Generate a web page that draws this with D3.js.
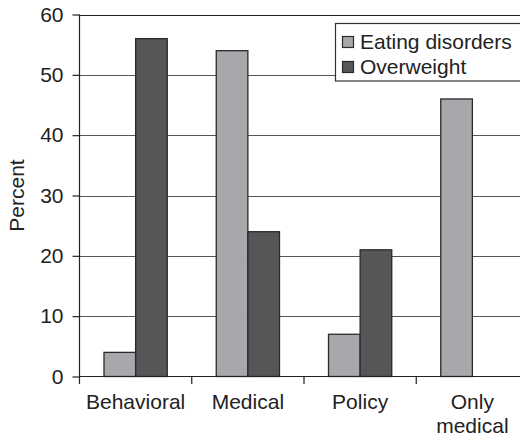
<!DOCTYPE html>
<html>
<head>
<meta charset="utf-8">
<script src="https://cdn.jsdelivr.net/npm/d3@7"></script>
<style>
  html, body { margin: 0; padding: 0; background: #fff; }
  svg { display: block; font-family: "Liberation Sans", Arial, sans-serif; }
</style>
</head>
<body>
<svg id="chart" width="520" height="440"></svg>
<script>
const categories = ["Behavioral", "Medical", "Policy", "Only medical"];
const categoryLines = [["Behavioral"], ["Medical"], ["Policy"], ["Only", "medical"]];
const seriesNames = ["Eating disorders", "Overweight"];
const eatingDisorders = [4, 54, 7, 46];
const overweight = [56, 24, 21, 0];
const yTicks = [0, 10, 20, 30, 40, 50, 60];

const colors = { "Eating disorders": "#a7a8ab", "Overweight": "#555657" };
const seriesValues = { "Eating disorders": eatingDisorders, "Overweight": overweight };
const FS = 21;

const svg = d3.select("#chart");
const mLeft = 79.5, mRight = 528.5, mTop = 14.5, mBottom = 376.5;

const x = d3.scaleBand().domain(categories).range([mLeft, mRight]).paddingInner(0).paddingOuter(0);
const bw = x.bandwidth();
const x1 = d3.scaleBand().domain(seriesNames).range([24.5, bw - 24.5]).padding(0);
const y = d3.scaleLinear().domain([0, 60]).range([mBottom, mTop]);

// gridlines
svg.append("g").selectAll("line")
  .data(yTicks.filter(d => d > 0))
  .join("line")
  .attr("x1", mLeft).attr("x2", mRight)
  .attr("y1", d => Math.round(y(d)) + 0.5).attr("y2", d => Math.round(y(d)) + 0.5)
  .attr("stroke", d => d === 60 ? "#222" : "#555")
  .attr("stroke-width", 1.2);

// bars
const data = [];
categories.forEach((c, i) => {
  seriesNames.forEach(s => {
    const v = seriesValues[s][i];
    if (v > 0) data.push({ c, s, v });
  });
});
svg.append("g").selectAll("rect")
  .data(data)
  .join("rect")
  .attr("x", d => x(d.c) + x1(d.s))
  .attr("y", d => y(d.v))
  .attr("width", x1.bandwidth())
  .attr("height", d => y(0) - y(d.v))
  .attr("fill", d => colors[d.s])
  .attr("stroke", "#2a2a2a")
  .attr("stroke-width", 1.3);

// y axis
const yAxis = svg.append("g")
  .attr("transform", `translate(${mLeft},0)`)
  .call(d3.axisLeft(y).tickValues(yTicks).tickSize(7).tickPadding(9).tickFormat(d3.format("d")));
yAxis.select(".domain").remove();
yAxis.selectAll(".tick line").attr("stroke", "#222").attr("stroke-width", 1.2);
yAxis.selectAll(".tick text").attr("font-size", FS).attr("fill", "#222")
  .attr("font-family", "Liberation Sans, Arial, sans-serif");

// y axis vertical line (extends below to first category tick)
svg.append("line")
  .attr("x1", mLeft).attr("x2", mLeft)
  .attr("y1", mTop).attr("y2", mBottom + 7.5)
  .attr("stroke", "#222").attr("stroke-width", 1.2);

// zero baseline
svg.append("line")
  .attr("x1", mLeft).attr("x2", mRight)
  .attr("y1", mBottom).attr("y2", mBottom)
  .attr("stroke", "#222").attr("stroke-width", 1.2);

// category boundary ticks
svg.append("g").selectAll("line")
  .data(categories.slice(1))
  .join("line")
  .attr("x1", d => x(d)).attr("x2", d => x(d))
  .attr("y1", mBottom).attr("y2", mBottom + 7.5)
  .attr("stroke", "#222").attr("stroke-width", 1.2);

// category labels
const lab = svg.append("g").selectAll("text")
  .data(categories)
  .join("text")
  .attr("x", d => x(d) + bw / 2)
  .attr("y", 409)
  .attr("text-anchor", "middle")
  .attr("font-size", FS)
  .attr("fill", "#222");
lab.each(function(d, i) {
  const t = d3.select(this);
  categoryLines[i].forEach((line, j) => {
    t.append("tspan").attr("x", x(d) + bw / 2).attr("dy", j === 0 ? 0 : 24).text(line);
  });
});

// y label
svg.append("text")
  .attr("transform", `translate(24,${(mTop + mBottom) / 2}) rotate(-90)`)
  .attr("text-anchor", "middle")
  .attr("font-size", FS)
  .attr("fill", "#222")
  .text("Percent");

// legend
const lg = svg.append("g");
lg.append("rect")
  .attr("x", 335.5).attr("y", 23.5).attr("width", 200).attr("height", 57.5)
  .attr("fill", "#fff").attr("stroke", "#333").attr("stroke-width", 1.2);
seriesNames.forEach((s, i) => {
  lg.append("rect")
    .attr("x", 342.5).attr("y", 36.5 + i * 25).attr("width", 11).attr("height", 11)
    .attr("fill", colors[s]).attr("stroke", "#2a2a2a").attr("stroke-width", 1.2);
  lg.append("text")
    .attr("x", 360).attr("y", 48.5 + i * 25)
    .attr("font-size", FS).attr("fill", "#222")
    .text(s);
});
</script>
</body>
</html>
